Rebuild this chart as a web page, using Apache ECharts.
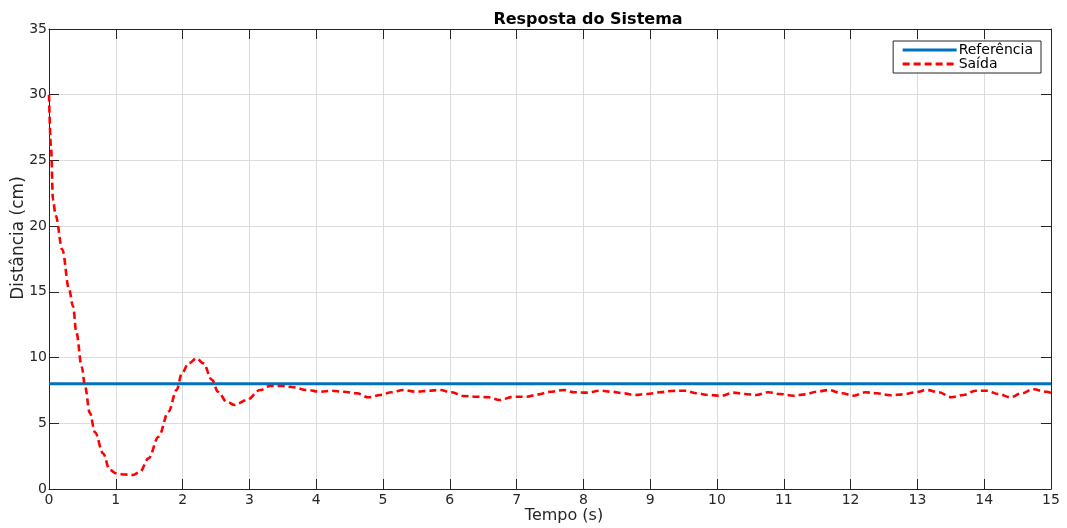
<!DOCTYPE html>
<html>
<head>
<meta charset="utf-8">
<title>Resposta do Sistema</title>
<script src="https://cdn.jsdelivr.net/npm/echarts@6/dist/echarts.min.js"></script>
<style>
  html, body { margin: 0; padding: 0; background: #ffffff; }
  #chart { width: 1067px; height: 528px; }
</style>
</head>
<body>
<div id="chart"></div>
<script>
// Simulated step response: time (s) and measured distance (cm)
const tempo = [
  0, 0.03, 0.06, 0.1, 0.2, 0.3, 0.36, 0.41, 0.49, 0.54, 0.61, 0.69, 0.81, 0.91, 1.0,
  1.13, 1.26, 1.36, 1.49, 1.64, 1.79, 1.91, 1.99, 2.09, 2.21, 2.31, 2.44, 2.53, 2.66,
  2.78, 2.96, 3.16, 3.31, 3.48, 3.66, 3.86, 4.06, 4.23, 4.41, 4.61, 4.78, 4.96, 5.13,
  5.30, 5.50, 5.68, 5.85, 6.03, 6.20, 6.40, 6.58, 6.75, 6.95, 7.15, 7.33, 7.50, 7.70,
  7.87, 8.05, 8.25, 8.42, 8.60, 8.77, 8.95, 9.15, 9.32, 9.52, 9.70, 9.87, 10.07, 10.24,
  10.42, 10.59, 10.77, 10.94, 11.14, 11.32, 11.49, 11.67, 11.87, 12.05, 12.22, 12.40,
  12.59, 12.79, 12.97, 13.14, 13.32, 13.51, 13.69, 13.87, 14.04, 14.21, 14.39, 14.56,
  14.73, 14.93, 15.0
];
const saida = [
  30, 26, 22, 20.8, 18.2, 15.2, 13.9, 11.9, 9.3, 7.8, 5.8, 4.3, 2.7, 1.45, 1.2,
  1.1, 1.07, 1.3, 2.33, 3.98, 5.9, 7.53, 8.8, 9.56, 9.94, 9.56, 8.3, 7.4, 6.64,
  6.39, 6.77, 7.53, 7.84, 7.84, 7.74, 7.53, 7.4, 7.48, 7.4, 7.28, 6.98, 7.15, 7.36,
  7.53, 7.4, 7.48, 7.53, 7.36, 7.08, 7.02, 6.98, 6.77, 7.02, 7.02, 7.2, 7.4, 7.53,
  7.36, 7.33, 7.48, 7.4, 7.28, 7.15, 7.23, 7.36, 7.46, 7.48, 7.28, 7.15, 7.1, 7.33,
  7.23, 7.15, 7.36, 7.23, 7.1, 7.2, 7.4, 7.53, 7.28, 7.1, 7.36, 7.28,
  7.13, 7.2, 7.36, 7.53, 7.36, 6.98, 7.15, 7.48, 7.48, 7.23, 6.98, 7.28,
  7.59, 7.4, 7.3
];
const referencia = 8;
const xTicks = { min: 0, max: 15, step: 1 };
const yTicks = { min: 0, max: 35, step: 5 };

const saidaPts = tempo.map((t, i) => [t, saida[i]]);
const refPts = [[xTicks.min, referencia], [xTicks.max, referencia]];

const ink = '#262626';
const font = 'DejaVu Sans, Verdana, sans-serif';

const chart = echarts.init(document.getElementById('chart'), null, { renderer: 'canvas' });

function xAxisDef(pos, main) {
  return {
    type: 'value', position: pos,
    min: xTicks.min, max: xTicks.max, interval: xTicks.step,
    axisLine: { show: true, onZero: false, lineStyle: { color: ink, width: 1 } },
    axisTick: { show: true, inside: true, length: 10, lineStyle: { color: ink } },
    axisLabel: { show: main, margin: 4, fontFamily: font, fontSize: 14, color: ink },
    splitLine: { show: main, lineStyle: { color: '#dcdcdc', width: 1 } }
  };
}
function yAxisDef(pos, main) {
  return {
    type: 'value', position: pos,
    min: yTicks.min, max: yTicks.max, interval: yTicks.step,
    axisLine: { show: true, onZero: false, lineStyle: { color: ink, width: 1 } },
    axisTick: { show: true, inside: true, length: 10, lineStyle: { color: ink } },
    axisLabel: { show: main, margin: 2, fontFamily: font, fontSize: 14, color: ink },
    splitLine: { show: main, lineStyle: { color: '#dcdcdc', width: 1 } }
  };
}

chart.setOption({
  animation: false,
  backgroundColor: '#ffffff',
  title: {
    text: 'Resposta do Sistema', left: 583, top: 7, textAlign: 'center',
    textStyle: { fontFamily: font, fontSize: 16, fontWeight: 'bold', color: '#000' }
  },
  graphic: [
    {
      type: 'text',
      style: { text: 'Tempo (s)', x: 564, y: 516, align: 'center', verticalAlign: 'middle',
               font: '16px ' + font, fill: ink }
    },
    {
      type: 'text', x: 18.5, y: 238, rotation: Math.PI / 2,
      style: { text: 'Distância (cm)', align: 'center', verticalAlign: 'middle',
               font: '17px ' + font, fill: ink }
    }
  ],
  grid: { left: 49, right: 16, top: 29, bottom: 39, outerBoundsMode: 'none' },
  legend: {
    orient: 'vertical', right: 26, top: 41,
    backgroundColor: '#ffffff', borderColor: ink, borderWidth: 1,
    padding: [2, 8, 2, 8], itemGap: 0, itemWidth: 54, itemHeight: 13,
    itemStyle: { opacity: 0 },
    lineStyle: { width: 3 },
    textStyle: { fontFamily: font, fontSize: 14, color: '#000', padding: [0, 0, 0, -3] },
    data: ['Referência', 'Saída']
  },
  xAxis: [xAxisDef('bottom', true), xAxisDef('top', false)],
  yAxis: [yAxisDef('left', true), yAxisDef('right', false)],
  series: [
    {
      name: 'Referência', type: 'line', data: refPts, symbol: 'none',
      lineStyle: { color: '#0072BD', width: 3 }, itemStyle: { color: '#0072BD' },
      z: 2
    },
    {
      name: 'Saída', type: 'line', data: saidaPts, symbol: 'none',
      smooth: 0.35, smoothMonotone: 'x',
      lineStyle: { color: '#ff0000', width: 2.6, type: [7, 4] },
      itemStyle: { color: '#ff0000' },
      z: 3
    }
  ]
});
</script>
</body>
</html>
